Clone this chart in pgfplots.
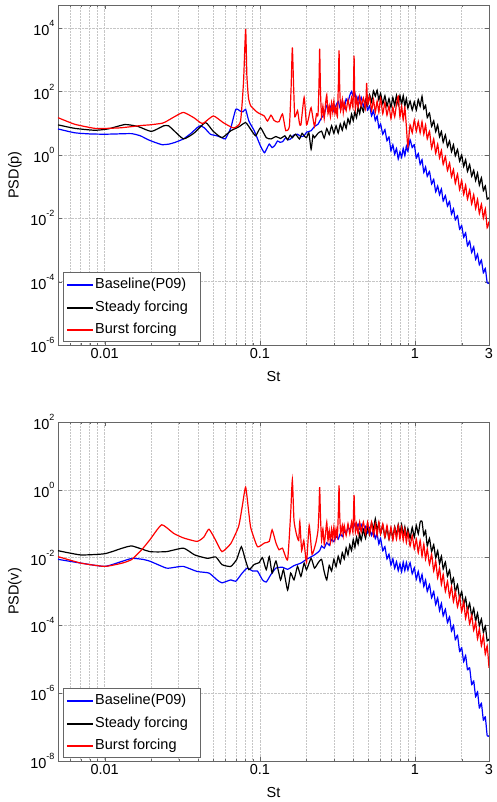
\documentclass[border=0pt]{standalone}
\usepackage{fontspec}
\setmainfont{Liberation Sans}
\usepackage{pgfplots}
\pgfplotsset{compat=1.18}
\newcommand{\fs}{\fontsize{14.5}{17}\selectfont}
\newcommand{\pw}[1]{10\raisebox{0.62em}{\fontsize{9}{9}\selectfont#1}}
\newcommand{\psdlegend}{%
  \draw[black!60, fill=white, line width=0.5pt] (axis description cs:0,0) ++(5pt,4pt) rectangle ++(137pt,69pt);
  \draw[draw=blue, line width=1.5pt] (axis description cs:0,0) ++(9pt,60pt) -- ++(26pt,0pt);
  \draw[draw=black, line width=1.5pt] (axis description cs:0,0) ++(9pt,37pt) -- ++(26pt,0pt);
  \draw[draw=red, line width=1.5pt] (axis description cs:0,0) ++(9pt,15pt) -- ++(26pt,0pt);
  \path (axis description cs:0,0) ++(37pt,60pt) node[anchor=west, inner sep=0pt, font=\fs] {Baseline(P09)};
  \path (axis description cs:0,0) ++(37pt,37pt) node[anchor=west, inner sep=0pt, font=\fs] {Steady forcing};
  \path (axis description cs:0,0) ++(37pt,15pt) node[anchor=west, inner sep=0pt, font=\fs] {Burst forcing};
}
\pgfplotsset{
 psd/.style={
  scale only axis, width=431pt,
  xmin=0.005, xmax=3,
  xtick={0.01,0.1,1,3}, xticklabels={0.01,0.1,1,3},
  minor xtick={0.006,0.007,0.008,0.009,0.02,0.03,0.04,0.05,0.06,0.07,0.08,0.09,0.2,0.3,0.4,0.5,0.6,0.7,0.8,0.9,2},
  xmajorgrids, xminorgrids, ymajorgrids,
  grid style={densely dotted, gray!45, line width=0.5pt},
  minor grid style={densely dotted, gray!45, line width=0.5pt},
  tick align=inside, major tick length=4pt, minor tick length=2pt,
  tick style={black!60},
  axis line style={black!60},
  tick label style={font=\fs},
  label style={font=\fs},
  xlabel={St},
  xlabel style={at={(axis description cs:0.5,0)}, anchor=center, yshift=-32pt},
  ylabel style={at={(axis description cs:-0.1,0.5)}, anchor=center},
  clip mode=individual,
 },
 bl/.style={color=blue, line width=1.2pt, smooth, tension=0.3},
 bk/.style={color=black, line width=1.2pt, smooth, tension=0.3},
 rd/.style={color=red, line width=1.2pt, smooth, tension=0.3},
}
\begin{document}
\begin{tikzpicture}
% ---------------- top: PSD(p) ----------------
\begin{axis}[xmode=log, ymode=log, psd, at={(0pt,416pt)}, anchor=south west, height=340pt,
  ymin=1e-6, ymax=5.4e4,
  ytick={1e-6,1e-4,1e-2,1,1e2,1e4},
  yticklabels={\pw{-6},\pw{-4},\pw{-2},\pw{0},\pw{2},\pw{4}},
  ylabel={PSD(p)}]
\addplot[bl] coordinates {(0.005,6.6)(0.0064,5.0)(0.008,4.6)(0.01,4.5)(0.012,4.6)(0.0149,4.7)(0.017,4.0)(0.0191,3.0)(0.0215,2.4)(0.0235,2.1)(0.026,2.2)(0.0285,2.5)(0.0322,3.2)(0.036,4.8)(0.0394,7.2)(0.0413,8.3)(0.044,7.1)(0.048,4.5)(0.053,4.0)(0.057,3.5)(0.06,3.2)(0.065,7.2)(0.07,27.5)(0.075,24)(0.078,23)(0.081,27.5)(0.085,11.7)(0.092,5.8)(0.101,1.9)(0.107,1.17)(0.111,1.6)(0.115,2.2)(0.12,1.7)(0.125,2.0)(0.13,2.75)(0.135,2.5)(0.14,2.6)(0.147,3.5)(0.152,3.0)(0.158,3.2)(0.165,4.2)(0.175,4.5)(0.184,3.8)(0.193,4.0)(0.2,5.2)(0.214,5.8)(0.225,7.9)(0.237,9.3)(0.25,15)
(0.26,19)(0.27,36)(0.28,25)(0.29,39)(0.30,24)(0.31,37)(0.32,49)(0.33,29)(0.34,49)(0.35,30)(0.36,59)(0.37,47)(0.38,76)(0.39,100)(0.40,71)(0.41,89)(0.42,45)(0.43,68)(0.44,44)(0.45,66)(0.465,34)(0.48,54)(0.495,26)(0.51,35)(0.525,17)(0.54,25)(0.555,12)(0.57,17)(0.585,7.1)(0.60,9.5)(0.62,4.5)(0.64,6.3)(0.66,2.8)(0.68,3.7)(0.70,1.35)(0.72,2.1)(0.74,1.05)(0.76,1.6)(0.78,0.74)(0.80,1.26)(0.82,0.83)(0.84,1.6)(0.86,0.95)(0.88,1.9)(0.90,1.3)(0.93,3.0)(0.96,1.7)(0.99,2.1)(1.02,0.79)(1.05,1.1)(1.08,0.5)(1.11,0.71)(1.14,0.28)(1.17,0.42)(1.20,0.21)(1.24,0.3)(1.28,0.12)(1.32,0.17)(1.36,0.068)(1.40,0.105)(1.44,0.055)(1.48,0.085)(1.52,0.035)(1.57,0.052)(1.62,0.024)(1.67,0.034)(1.72,0.0135)(1.77,0.02)(1.82,0.0089)(1.88,0.012)(1.94,0.0045)(2.00,0.0059)(2.06,0.0025)(2.12,0.0035)(2.18,0.00135)(2.25,0.0019)(2.32,0.00083)(2.39,0.00126)(2.46,0.0005)(2.53,0.00074)(2.60,0.00034)(2.68,0.00048)(2.76,0.00019)(2.84,0.00026)(2.92,0.000093)(3.0,0.000089)};
\addplot[bk] coordinates {(0.005,8.9)(0.0064,6.9)(0.0086,6.0)(0.0105,6.6)(0.0135,9.1)(0.0164,7.9)(0.02,5.5)(0.024,8.3)(0.0258,8.3)(0.0278,6.0)(0.0322,3.2)(0.0375,4.8)(0.0446,10.5)(0.05,5.6)(0.057,3.5)(0.065,5.8)(0.073,7.6)(0.081,10.5)(0.0875,6.3)(0.094,4.0)(0.101,7.2)(0.11,3.5)(0.118,3.2)(0.127,3.8)(0.136,3.3)(0.145,4.0)(0.151,3.0)(0.157,4.2)(0.162,3.5)(0.17,4.5)(0.18,3.2)(0.187,4.8)(0.193,4.0)(0.2,3.5)(0.207,5.0)(0.214,1.5)(0.22,4.2)(0.225,3.5)(0.237,4.8)
(0.25,5.6)(0.26,3.4)(0.27,6.8)(0.28,4.4)(0.29,8.3)(0.30,4.8)(0.31,8.3)(0.32,4.9)(0.33,9.5)(0.34,6.0)(0.35,11)(0.36,6.9)(0.37,14)(0.38,9.5)(0.39,19.5)(0.40,12)(0.41,23)(0.42,15)(0.43,32)(0.44,20)(0.45,37)(0.465,23)(0.48,56)(0.495,36)(0.51,79)(0.525,47)(0.54,105)(0.555,71)(0.57,110)(0.585,54)(0.60,87)(0.62,41)(0.64,74)(0.66,34)(0.68,60)(0.70,32)(0.72,65)(0.74,36)(0.76,76)(0.78,38)(0.80,74)(0.82,39)(0.84,74)(0.86,35)(0.88,60)(0.90,30)(0.93,50)(0.96,26)(0.99,47)(1.02,26)(1.05,56)(1.08,34)(1.11,71)(1.14,28)(1.17,37)(1.20,15)(1.24,21)(1.28,7.9)(1.32,12)(1.36,5.4)(1.40,8.9)(1.44,3.7)(1.48,5.5)(1.52,2.5)(1.57,4.3)(1.62,1.8)(1.67,2.75)(1.72,1.26)(1.77,2.1)(1.82,0.93)(1.88,1.5)(1.94,0.63)(2.00,1.0)(2.06,0.43)(2.12,0.71)(2.18,0.3)(2.25,0.5)(2.32,0.21)(2.39,0.33)(2.46,0.155)(2.53,0.27)(2.60,0.11)(2.68,0.19)(2.76,0.074)(2.84,0.105)(2.92,0.04)(3.0,0.045)};
\addplot[rd] coordinates {(0.005,15)(0.0064,9.3)(0.0086,6.9)(0.0105,6.9)(0.0128,7.2)(0.0173,8.5)(0.0196,8.9)(0.0235,10)(0.0252,11.7)(0.0285,16.6)(0.0322,22)(0.0375,15)(0.0413,10.5)(0.0433,10)(0.0502,17)(0.058,10.5)(0.0678,7.1)(0.075,11.2)(0.0785,200)(0.081,9500)(0.0825,316)(0.0845,63)(0.0875,35)(0.0965,22)(0.1066,17)(0.112,11.7)(0.118,18)(0.123,12.6)(0.127,11.2)(0.133,11.2)(0.14,19.5)(0.147,5.8)(0.155,7.9)(0.159,126)(0.162,2450)(0.165,158)(0.168,16)(0.175,25)(0.18,10)(0.184,8.9)(0.193,65)(0.2,8.9)(0.207,16)(0.214,31)(0.225,7.9)(0.232,20)(0.237,18)(0.2405,158)(0.243,2240)(0.246,100)(0.25,16)
(0.255,35)(0.26,14)(0.265,40)(0.27,79)(0.275,20)(0.28,35)(0.285,16)(0.29,45)(0.295,22)(0.30,50)(0.305,20)(0.31,32)(0.316,16)(0.321,200)(0.324,2000)(0.327,158)(0.332,25)(0.34,56)(0.345,22)(0.35,45)(0.36,25)(0.37,56)(0.38,28)(0.39,63)(0.398,32)(0.402,200)(0.405,1350)(0.408,126)(0.413,28)(0.42,63)(0.43,32)(0.44,71)(0.45,35)(0.465,63)(0.48,28)(0.488,186)(0.495,40)(0.51,71)(0.525,25)(0.54,56)(0.555,22)(0.57,50)(0.585,22)(0.60,63)(0.62,20)(0.64,45)(0.66,18)(0.68,35)(0.70,14)(0.72,32)(0.74,16)(0.76,40)(0.78,71)(0.80,16)(0.82,35)(0.84,12.6)(0.86,32)(0.88,7.9)(0.90,1.8)(0.93,8.9)(0.96,5.0)(0.99,12.6)(1.02,5.6)(1.05,11.2)(1.08,5.0)(1.11,11.2)(1.14,4.5)(1.17,8.9)(1.20,3.2)(1.24,5.6)(1.28,1.6)(1.32,3.2)(1.36,1.12)(1.40,2.2)(1.44,0.79)(1.48,1.4)(1.52,0.5)(1.57,0.89)(1.62,0.32)(1.67,0.56)(1.72,0.2)(1.77,0.35)(1.82,0.126)(1.88,0.25)(1.94,0.079)(2.00,0.158)(2.06,0.056)(2.12,0.112)(2.18,0.04)(2.25,0.079)(2.32,0.028)(2.39,0.056)(2.46,0.02)(2.53,0.04)(2.60,0.014)(2.68,0.028)(2.76,0.01)(2.84,0.02)(2.92,0.005)(3.0,0.0079)};
\psdlegend
\end{axis}
% ---------------- bottom: PSD(v) ----------------
\begin{axis}[xmode=log, ymode=log, psd, at={(0pt,0pt)}, anchor=south west, height=339pt,
  ymin=1e-8, ymax=1e2,
  ytick={1e-8,1e-6,1e-4,1e-2,1,1e2},
  yticklabels={\pw{-8},\pw{-6},\pw{-4},\pw{-2},\pw{0},\pw{2}},
  ylabel={PSD(v)}]
\addplot[bl] coordinates {(0.005,8.9e-3)(0.007,6.9e-3)(0.01,5.5e-3)(0.013,7.8e-3)(0.015,9.5e-3)(0.0175,8.9e-3)(0.0196,7.8e-3)(0.025,4.9e-3)(0.0285,5.2e-3)(0.0322,5.5e-3)(0.0394,3.9e-3)(0.047,3.5e-3)(0.053,2.2e-3)(0.057,1.8e-3)(0.065,2.2e-3)(0.07,2.0e-3)(0.077,3.5e-3)(0.083,4.9e-3)(0.09,4.0e-3)(0.0965,4.0e-3)(0.104,2.2e-3)(0.11,1.9e-3)(0.118,3.2e-3)(0.127,4.9e-3)(0.14,5.2e-3)(0.151,4.5e-3)(0.166,5.8e-3)(0.184,6.9e-3)(0.2,8.9e-3)(0.225,1.2e-2)(0.243,1.6e-2)
(0.25,2.2e-2)(0.26,1.9e-2)(0.27,2.75e-2)(0.28,2.3e-2)(0.29,3.4e-2)(0.30,2.95e-2)(0.31,4.3e-2)(0.32,3.5e-2)(0.33,5.1e-2)(0.34,4.2e-2)(0.35,6.0e-2)(0.36,5.1e-2)(0.37,7.8e-2)(0.38,6.6e-2)(0.39,9.3e-2)(0.40,7.6e-2)(0.41,0.1)(0.42,7.2e-2)(0.43,9.8e-2)(0.44,7.1e-2)(0.45,9.5e-2)(0.465,6.2e-2)(0.48,8.3e-2)(0.495,5.4e-2)(0.51,7.6e-2)(0.525,4.5e-2)(0.54,6.6e-2)(0.555,3.6e-2)(0.57,5.0e-2)(0.585,2.5e-2)(0.60,3.7e-2)(0.62,1.6e-2)(0.64,2.1e-2)(0.66,9.1e-3)(0.68,1.26e-2)(0.70,6.0e-3)(0.72,9.3e-3)(0.74,4.8e-3)(0.76,7.6e-3)(0.78,4.1e-3)(0.80,6.6e-3)(0.82,3.8e-3)(0.84,7.4e-3)(0.86,4.1e-3)(0.88,7.2e-3)(0.90,4.3e-3)(0.93,7.1e-3)(0.96,3.3e-3)(0.99,5.0e-3)(1.02,2.3e-3)(1.05,3.9e-3)(1.08,1.9e-3)(1.11,3.2e-3)(1.14,1.4e-3)(1.17,2.2e-3)(1.20,1.0e-3)(1.24,1.6e-3)(1.28,6.5e-4)(1.32,1.0e-3)(1.36,4.1e-4)(1.40,6.5e-4)(1.44,2.7e-4)(1.48,4.5e-4)(1.52,1.9e-4)(1.57,3.0e-4)(1.62,1.2e-4)(1.67,1.8e-4)(1.72,6.8e-5)(1.77,1.0e-4)(1.82,3.8e-5)(1.88,5.1e-5)(1.94,1.7e-5)(2.00,2.2e-5)(2.06,8.5e-6)(2.12,1.3e-5)(2.18,4.9e-6)(2.25,5.6e-6)(2.32,1.8e-6)(2.39,2.3e-6)(2.46,7.9e-7)(2.53,1.1e-6)(2.60,3.7e-7)(2.68,5.0e-7)(2.76,1.6e-7)(2.84,2.0e-7)(2.92,5.6e-8)(3.0,5.6e-8)};
\addplot[bk] coordinates {(0.005,1.6e-2)(0.007,1.2e-2)(0.01,1.3e-2)(0.013,1.9e-2)(0.015,2.2e-2)(0.0196,1.5e-2)(0.025,1.5e-2)(0.0322,1.9e-2)(0.038,1.2e-2)(0.046,9.5e-3)(0.052,1.05e-2)(0.057,6.2e-3)(0.065,5.5e-3)(0.071,8.9e-3)(0.076,2.1e-2)(0.0805,8.9e-3)(0.085,4.4e-3)(0.092,6.3e-3)(0.099,7.1e-3)(0.104,1.0e-2)(0.11,4.4e-3)(0.115,1.07e-2)(0.12,3.5e-3)(0.127,7.9e-3)(0.136,2.2e-3)(0.142,4.4e-3)(0.151,1.1e-3)(0.158,3.5e-3)(0.166,2.2e-3)(0.175,5.5e-3)(0.184,2.8e-3)(0.193,6.9e-3)(0.2,4.4e-3)(0.214,9.5e-3)(0.225,4.9e-3)(0.237,6.9e-3)
(0.25,8.9e-3)(0.26,3.8e-3)(0.27,2.2e-3)(0.28,5.9e-3)(0.29,4.0e-3)(0.30,8.9e-3)(0.31,5.4e-3)(0.32,1.1e-2)(0.33,6.8e-3)(0.34,1.4e-2)(0.35,9.1e-3)(0.36,1.95e-2)(0.37,1.2e-2)(0.38,2.4e-2)(0.39,1.6e-2)(0.40,3.4e-2)(0.41,2.0e-2)(0.42,4.0e-2)(0.43,2.5e-2)(0.44,5.1e-2)(0.45,3.2e-2)(0.465,6.6e-2)(0.48,3.7e-2)(0.495,8.5e-2)(0.51,4.7e-2)(0.525,0.107)(0.54,6.8e-2)(0.555,0.14)(0.57,6.3e-2)(0.585,0.105)(0.60,5.0e-2)(0.62,8.9e-2)(0.64,4.0e-2)(0.66,7.4e-2)(0.68,3.5e-2)(0.70,7.1e-2)(0.72,3.8e-2)(0.74,8.1e-2)(0.76,4.5e-2)(0.78,9.5e-2)(0.80,5.0e-2)(0.82,9.5e-2)(0.84,4.5e-2)(0.86,8.1e-2)(0.88,3.8e-2)(0.90,7.1e-2)(0.93,3.7e-2)(0.96,7.8e-2)(0.99,4.0e-2)(1.02,8.9e-2)(1.05,5.0e-2)(1.08,0.112)(1.11,0.117)(1.14,4.5e-2)(1.17,6.3e-2)(1.20,2.2e-2)(1.24,3.7e-2)(1.28,1.5e-2)(1.32,2.4e-2)(1.36,9.8e-3)(1.40,1.6e-2)(1.44,6.6e-3)(1.48,1.1e-2)(1.52,4.6e-3)(1.57,7.4e-3)(1.62,2.8e-3)(1.67,4.3e-3)(1.72,1.7e-3)(1.77,2.5e-3)(1.82,9.5e-4)(1.88,1.6e-3)(1.94,6.3e-4)(2.00,1.0e-3)(2.06,4.0e-4)(2.12,6.6e-4)(2.18,2.7e-4)(2.25,4.5e-4)(2.32,1.9e-4)(2.39,3.2e-4)(2.46,1.35e-4)(2.53,2.3e-4)(2.60,9.5e-5)(2.68,1.55e-4)(2.76,6.2e-5)(2.84,9.5e-5)(2.92,3.5e-5)(3.0,4.0e-5)};
\addplot[rd] coordinates {(0.005,1.07e-2)(0.007,6.9e-3)(0.01,5.5e-3)(0.013,6.9e-3)(0.015,8.9e-3)(0.0175,1.8e-2)(0.0196,3.4e-2)(0.0233,9.3e-2)(0.0278,5.2e-2)(0.0322,3.8e-2)(0.0394,3.0e-2)(0.0435,4.0e-2)(0.047,6.9e-2)(0.052,3.2e-2)(0.057,1.5e-2)(0.065,2.6e-2)(0.073,8.3e-2)(0.077,0.32)(0.081,1.2)(0.085,0.2)(0.0875,7.4e-2)(0.0965,2.1e-2)(0.107,2.7e-2)(0.115,3.0e-2)(0.12,6.6e-2)(0.127,2.7e-2)(0.133,1.7e-2)(0.14,1.9e-2)(0.151,8.7e-3)(0.158,0.2)(0.162,2.0)(0.166,0.126)(0.172,5.0e-2)(0.178,3.2e-2)(0.181,0.117)(0.186,1.6e-2)(0.192,3.2e-2)(0.2,7.2e-3)(0.208,8.9e-2)(0.217,1.26e-2)(0.23,2.8e-2)(0.237,6.3e-2)(0.2405,0.25)(0.243,1.2)(0.246,0.16)(0.25,3.2e-2)
(0.255,7.1e-2)(0.26,2.5e-2)(0.265,5.0e-2)(0.27,0.112)(0.275,3.2e-2)(0.28,6.3e-2)(0.285,2.8e-2)(0.29,7.1e-2)(0.295,3.5e-2)(0.30,7.9e-2)(0.305,3.5e-2)(0.31,7.1e-2)(0.316,4.0e-2)(0.321,0.25)(0.324,1.35)(0.327,0.2)(0.332,5.0e-2)(0.34,8.9e-2)(0.345,4.5e-2)(0.35,8.9e-2)(0.36,4.5e-2)(0.37,0.1)(0.38,5.0e-2)(0.39,0.112)(0.398,5.6e-2)(0.402,0.25)(0.405,0.71)(0.408,0.2)(0.413,5.6e-2)(0.42,0.1)(0.43,5.0e-2)(0.44,0.112)(0.45,5.6e-2)(0.465,0.112)(0.48,5.0e-2)(0.495,0.112)(0.51,5.0e-2)(0.525,0.112)(0.54,4.5e-2)(0.555,0.1)(0.57,4.5e-2)(0.585,0.112)(0.60,5.0e-2)(0.62,0.1)(0.64,4.0e-2)(0.66,8.9e-2)(0.68,3.5e-2)(0.70,7.9e-2)(0.72,3.2e-2)(0.74,7.9e-2)(0.76,3.5e-2)(0.78,8.9e-2)(0.80,3.5e-2)(0.82,7.9e-2)(0.84,3.2e-2)(0.86,7.1e-2)(0.88,2.8e-2)(0.90,5.6e-2)(0.93,2.2e-2)(0.96,4.5e-2)(0.99,1.8e-2)(1.02,3.5e-2)(1.05,1.4e-2)(1.08,3.2e-2)(1.11,1.1e-2)(1.14,2.5e-2)(1.17,8.9e-3)(1.20,1.8e-2)(1.24,6.3e-3)(1.28,1.26e-2)(1.32,4.0e-3)(1.36,7.9e-3)(1.40,2.5e-3)(1.44,5.0e-3)(1.48,1.6e-3)(1.52,3.2e-3)(1.57,1.0e-3)(1.62,2.0e-3)(1.67,7.1e-4)(1.72,1.4e-3)(1.77,5.0e-4)(1.82,1.0e-3)(1.88,3.5e-4)(1.94,7.1e-4)(2.00,2.5e-4)(2.06,5.0e-4)(2.12,1.6e-4)(2.18,3.2e-4)(2.25,1.1e-4)(2.32,2.0e-4)(2.39,7.1e-5)(2.46,1.26e-4)(2.53,4.0e-5)(2.60,7.9e-5)(2.68,2.5e-5)(2.76,5.0e-5)(2.84,1.4e-5)(2.92,2.5e-5)(3.0,5.6e-6)};
\psdlegend
\end{axis}
\path[use as bounding box] (-58pt,-41pt) rectangle (433pt,761pt);
\end{tikzpicture}
\end{document}
